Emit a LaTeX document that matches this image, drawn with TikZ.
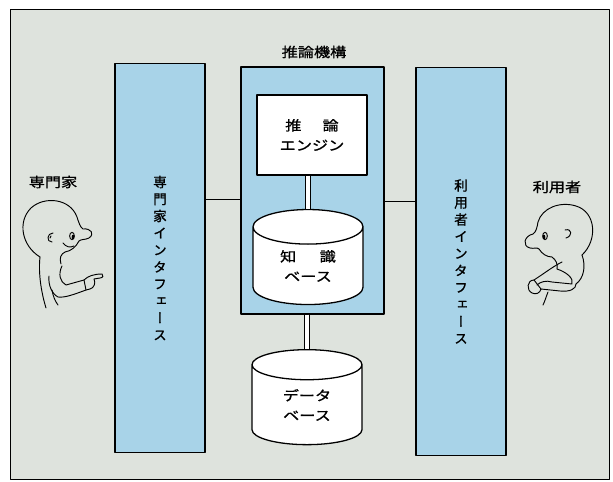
\documentclass[tikz,border=0pt]{standalone}
\usepackage{fontspec}
\newfontfamily\jp[FakeStretch=1.2, FakeBold=1.2]{Noto Sans CJK JP}
\newfontfamily\jpv[RawFeature=+vert, FakeBold=1.2]{Noto Sans CJK JP}
\usetikzlibrary{shapes.geometric}
\definecolor{panelgray}{RGB}{222,227,221}
\definecolor{ifblue}{RGB}{168,211,232}

\begin{document}
\begin{tikzpicture}[x=0.03cm, y=-0.03cm, line join=round,
  box/.style={draw, line width=1.1pt, inner sep=0pt, align=center},
  iface/.style={box, fill=ifblue, minimum width=2.7cm, minimum height=11.65cm,
    font=\jpv\fontsize{11.5}{14.5}\selectfont},
  store/.style={box, fill=white, cylinder, shape border rotate=90, aspect=0.62,
    minimum width=3.3cm, minimum height=2.85cm},
  link/.style={double, double distance=3pt, line width=0.9pt},
  wire/.style={line width=0.6pt},
  figure/.style={line width=0.8pt, line cap=round},
  font=\jp\fontsize{11.5}{17}\selectfont]

\useasboundingbox (0,0) rectangle (613,482);
\draw[fill=panelgray, line width=0.8pt] (10,9) rectangle (609,479);

\node[iface] (expif) at (160,258) {専\\門\\家\\イ\\ン\\タ\\フ\\ェ\\ー\\ス};
\node[iface] (userif) at (461,261.5) {利\\用\\者\\イ\\ン\\タ\\フ\\ェ\\ー\\ス};

\node[box, fill=ifblue, minimum width=4.29cm, minimum height=7.41cm] (core) at (312.5,190.5) {};
\node (coretitle) at (314,52) {推論機構};
\node[box, fill=white, minimum width=3.3cm, minimum height=2.4cm] (engine) at (312,135) {推\hspace{18pt}論\\エンジン};
\node[store] (kb) at (308,266) {知\hspace{20pt}識\\ベース};
\node[store] (db) at (307,405) {データ\\ベース};

\draw[wire] ([yshift=-0.28cm]core.west) -- ([yshift=-0.28cm]core.west -| expif.east);
\draw[wire] ([yshift=-0.34cm]core.east) -- ([yshift=-0.34cm]core.east -| userif.west);
\draw[link] (engine.south -| kb.north) -- (kb.north);
\draw[link] (core.south -| db.north) -- (db.north);

\node (expert) at (53,182) {専門家};
\node (user) at (557,187) {利用者};

% expert, looking right
\draw[figure] (40,257) .. controls (22,246) and (17,222) .. (31,208)
  .. controls (44,196) and (70,198) .. (77,217)
  .. controls (79,223) and (80,227) .. (83,229)
  .. controls (91,228) and (95,234) .. (89,238)
  .. controls (85,240) and (81,239) .. (79,241)
  .. controls (76,247) and (71,251) .. (65,252)
  .. controls (61,254) and (59,258) .. (61,264);
\draw[figure] (53,233) .. controls (47,233) and (46,242) .. (52,242);
\draw[figure] (51,236) -- (50,238);
\draw[figure] (72,236) ellipse [x radius=0.07cm, y radius=0.11cm];
\fill (73,237) ellipse [x radius=0.04cm, y radius=0.07cm];
\draw[figure] (63,243) .. controls (66,247) and (70,248) .. (74,246);
\draw[figure] (40,257) .. controls (38,275) and (42,295) .. (46,308);
\draw[figure] (62,266) .. controls (58,274) and (60,282) .. (66,285) -- (84,280)
  .. controls (88,276) and (94,274) .. (102,274)
  .. controls (104,275) and (103,278) .. (100,278) -- (94,279)
  .. controls (96,283) and (94,288) .. (90,289) -- (86,290)
  .. controls (75,294) and (65,298) .. (58,297)
  .. controls (52,294) and (48,285) .. (49,276);
\draw[figure] (84,280) -- (86,290);
\draw[figure] (52,290) .. controls (53,296) and (55,301) .. (58,305);

% user, looking left
\draw[figure] (582,255) .. controls (598,240) and (596,212) .. (576,206)
  .. controls (560,201) and (542,208) .. (538,222)
  .. controls (537,228) and (536,232) .. (533,234)
  .. controls (524,236) and (522,246) .. (530,248)
  .. controls (534,249) and (537,247) .. (539,249)
  .. controls (542,254) and (547,257) .. (552,257)
  .. controls (556,260) and (558,264) .. (557,269);
\draw[figure] (545,236) ellipse [x radius=0.07cm, y radius=0.11cm];
\fill (544,237) ellipse [x radius=0.04cm, y radius=0.07cm];
\draw[figure] (565,230) .. controls (572,228) and (573,236) .. (566,238);
\draw[figure] (582,255) .. controls (586,266) and (584,278) .. (576,284);
\draw[figure] (557,269) .. controls (566,272) and (574,278) .. (572,284)
  -- (552,282) .. controls (546,280) and (540,282) .. (537,285);
\draw[figure] (562,262) .. controls (554,266) and (546,272) .. (540,276) -- (534,280)
  .. controls (527,280) and (526,290) .. (532,293)
  .. controls (536,295) and (540,293) .. (541,289) -- (560,291)
  .. controls (570,292) and (576,289) .. (576,284);
\draw[figure] (534,280) -- (541,289);
\draw[figure] (548,292) .. controls (546,297) and (545,301) .. (543,305);
\end{tikzpicture}
\end{document}
